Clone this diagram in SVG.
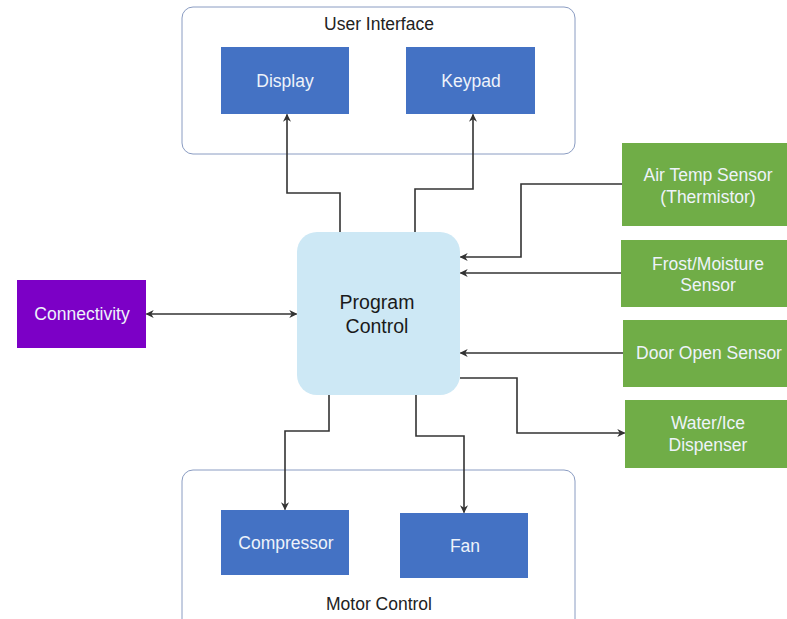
<svg xmlns="http://www.w3.org/2000/svg" width="787" height="619" viewBox="0 0 787 619">
  <defs>
    <marker id="arr" viewBox="0 0 10 10" refX="9" refY="5" markerWidth="8" markerHeight="8" markerUnits="userSpaceOnUse" orient="auto-start-reverse">
      <path d="M0,0 L10,5 L0,10 L3,5 z" fill="#333"/>
    </marker>
  </defs>
  <style>
    text { font-family: "Liberation Sans", Arial, sans-serif; text-anchor: middle; }
    .group { fill: #fff; stroke: #8A9CC2; stroke-width: 1; }
    .group-label { font-size: 17.5px; fill: #222; }
    .blue { fill: #4472C4; }
    .green { fill: #70AD47; }
    .purple { fill: #7C00C6; }
    .core { fill: #CDE8F5; }
    .lbl { font-size: 17.5px; fill: #EEF3FA; }
    .core-lbl { font-size: 19.5px; fill: #1A1A1A; }
    .wire { fill: none; stroke: #333; stroke-width: 1.6; }
  </style>
  <rect width="787" height="619" fill="#fff"/>

  <!-- User interface group -->
  <g id="user-interface">
    <rect class="group" x="182" y="7" width="393" height="147" rx="11"/>
    <text class="group-label" x="379" y="30">User Interface</text>
  </g>
  <g id="display">
    <rect class="blue" x="221" y="47" width="128" height="67"/>
    <text class="lbl" x="285" y="87">Display</text>
  </g>
  <g id="keypad">
    <rect class="blue" x="406" y="47" width="129" height="67"/>
    <text class="lbl" x="471" y="87">Keypad</text>
  </g>

  <!-- Motor control group -->
  <g id="motor-control">
    <rect class="group" x="182" y="470" width="393" height="160" rx="11"/>
    <text class="group-label" x="379" y="610">Motor Control</text>
  </g>
  <g id="compressor">
    <rect class="blue" x="221" y="510" width="128" height="65"/>
    <text class="lbl" x="286" y="549">Compressor</text>
  </g>
  <g id="fan">
    <rect class="blue" x="400" y="513" width="128" height="65"/>
    <text class="lbl" x="465" y="552">Fan</text>
  </g>

  <!-- Central controller -->
  <g id="program-control">
    <rect class="core" x="297" y="232" width="163" height="163" rx="20"/>
    <text class="core-lbl" x="377" y="309">Program</text>
    <text class="core-lbl" x="377" y="333">Control</text>
  </g>

  <g id="connectivity">
    <rect class="purple" x="17" y="280" width="129" height="68"/>
    <text class="lbl" x="82" y="320">Connectivity</text>
  </g>

  <!-- Sensors and dispenser -->
  <g id="air-temp-sensor">
    <rect class="green" x="622" y="143" width="170" height="83"/>
    <text class="lbl" x="708" y="181">Air Temp Sensor</text>
    <text class="lbl" x="708" y="203">(Thermistor)</text>
  </g>
  <g id="frost-moisture-sensor">
    <rect class="green" x="621" y="240" width="170" height="67"/>
    <text class="lbl" x="708" y="270">Frost/Moisture</text>
    <text class="lbl" x="708" y="291">Sensor</text>
  </g>
  <g id="door-open-sensor">
    <rect class="green" x="623" y="320" width="170" height="67"/>
    <text class="lbl" x="709" y="359">Door Open Sensor</text>
  </g>
  <g id="water-ice-dispenser">
    <rect class="green" x="625" y="400" width="170" height="68"/>
    <text class="lbl" x="708" y="429">Water/Ice</text>
    <text class="lbl" x="708" y="451">Dispenser</text>
  </g>

  <!-- Connectors -->
  <g id="connectors">
    <path class="wire" d="M340,232 V193 H287 V114.5" marker-end="url(#arr)"/>
    <path class="wire" d="M415,232 V189 H473 V114.5" marker-end="url(#arr)"/>
    <path class="wire" d="M622,184 H521 V257 H460.5" marker-end="url(#arr)"/>
    <path class="wire" d="M621,273 H460.5" marker-end="url(#arr)"/>
    <path class="wire" d="M623,353 H460.5" marker-end="url(#arr)"/>
    <path class="wire" d="M460,378 H517 V433 H624.5" marker-end="url(#arr)"/>
    <path class="wire" d="M146.5,314 H296.5" marker-start="url(#arr)" marker-end="url(#arr)"/>
    <path class="wire" d="M329,395 V431 H285 V509.5" marker-end="url(#arr)"/>
    <path class="wire" d="M416,395 V436 H464 V512.5" marker-end="url(#arr)"/>
  </g>
</svg>
